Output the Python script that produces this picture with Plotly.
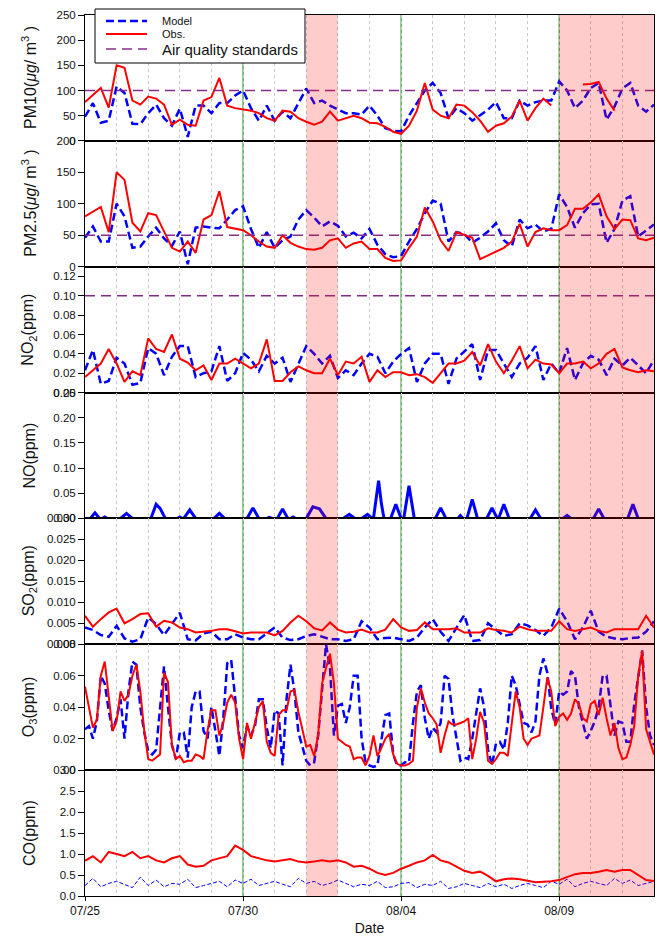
import pandas as pd
import plotly.graph_objects as go
from plotly.subplots import make_subplots

START = "2013-07-25"
t6 = pd.date_range(START, periods=73, freq="6h")
t3 = pd.date_range(START, periods=145, freq="3h")

# ---------------- data ----------------
pm10_obs = [77, 92, 105, 66, 150, 145, 80, 72, 88, 84, 72, 32, 42, 32, 30, 80,
            87, 125, 70, 65, 63, 60, 55, 45, 40, 60, 58, 45, 38, 32, 38, 58,
            40, 45, 50, 45, 36, 35, 28, 18, 14, 30, 60, 115, 62, 50, 45, 72,
            70, 57, 40, 18, 30, 35, 48, 80, 40, 65, 84, 70, None, None, None, 112,
            113, 117, 84, 60, None, None, None, None, None]
pm10_mod = [48, 75, 36, 40, 108, 95, 34, 33, 55, 72, 45, 30, 64, 8, 70, 70,
            55, 75, 75, 90, 100, 65, 40, 70, 40, 58, 45, 75, 104, 75, 80, 70,
            62, 55, 55, 52, 70, 50, 25, 20, 19, 50, 75, 100, 115, 95, 45, 65,
            55, 40, 51, 62, 77, 45, 45, 80, 70, 77, 80, 80, 118, 100, 65, 80,
            105, 115, 42, 68, 104, 115, 70, 58, 72]
pm25_obs = [80, 88, 95, 55, 150, 138, 70, 56, 85, 82, 55, 30, 24, 40, 22, 75,
            82, 120, 63, 60, 58, 50, 40, 32, 30, 50, 38, 32, 28, 27, 30, 42,
            45, 30, 37, 40, 28, 28, 14, 9, 10, 30, 48, 94, 72, 42, 25, 55,
            50, 46, 12, 18, 25, 30, 40, 68, 32, 55, 61, 58, 58, 66, 92, 92,
            102, 115, 80, 60, 75, 74, 45, 42, 46]
pm25_mod = [46, 64, 40, 40, 100, 80, 30, 32, 48, 62, 45, 33, 56, 4, 62, 64,
            62, 61, 75, 90, 96, 60, 30, 55, 30, 42, 48, 75, 90, 78, 64, 72,
            65, 48, 54, 45, 60, 35, 20, 15, 17, 40, 60, 85, 105, 100, 40, 55,
            52, 38, 46, 56, 69, 42, 32, 75, 61, 67, 56, 60, 115, 95, 62, 85,
            99, 100, 38, 60, 105, 112, 48, 58, 67]
no2_obs = [0.016, 0.023, 0.030, 0.045, 0.030, 0.011, 0.022, 0.018,
           0.056, 0.045, 0.042, 0.060, 0.035, 0.031, 0.023, 0.028,
           0.013, 0.030, 0.030, 0.035, 0.030, 0.025, 0.030, 0.055,
           0.012, 0.012, 0.021, 0.027, 0.023, 0.020, 0.020, 0.035,
           0.018, 0.032, 0.030, 0.037, 0.011, 0.023, 0.016, 0.021,
           0.021, 0.018, 0.019, 0.016, 0.010, 0.020, 0.030, 0.030,
           0.033, 0.042, 0.028, 0.050, 0.032, 0.020, 0.033, 0.048,
           0.025, 0.034, 0.030, 0.029, 0.020, 0.030, 0.030, 0.032,
           0.025, 0.030, 0.040, 0.045, 0.026, 0.023, 0.021, 0.023, 0.022]
no2_mod = [0.023, 0.044, 0.009, 0.012, 0.036, 0.030, 0.008, 0.010,
           0.046, 0.040, 0.018, 0.037, 0.048, 0.048, 0.016, 0.020,
           0.022, 0.048, 0.012, 0.020, 0.041, 0.034, 0.022, 0.038,
           0.030, 0.036, 0.011, 0.030, 0.048, 0.040, 0.030, 0.038,
           0.015, 0.023, 0.018, 0.030, 0.040, 0.037, 0.020, 0.032,
           0.040, 0.046, 0.011, 0.030, 0.040, 0.040, 0.009, 0.035,
           0.042, 0.050, 0.013, 0.044, 0.044, 0.030, 0.016, 0.030,
           0.036, 0.048, 0.013, 0.030, 0.020, 0.046, 0.013, 0.030,
           0.038, 0.034, 0.018, 0.035, 0.028, 0.036, 0.028, 0.020, 0.034]
no_hours = [0, 4, 7.6, 11, 13, 15, 17,
            27, 31.5, 36,
            50, 54, 57, 61,
            70, 72, 74,
            75, 79.5, 84,
            98, 102, 106,
            123, 127.5, 132,
            138, 140, 142,
            146, 150, 154,
            156, 158, 160,
            168, 173, 178, 183,
            196, 200.6, 205,
            210, 214.5, 218,
            219, 222.9, 225, 227,
            232, 236, 240,
            242, 246, 250,
            266, 270, 274,
            283, 285, 287,
            290, 294, 298,
            305, 309, 313,
            314, 318, 322,
            338, 342, 346,
            363, 366, 369,
            386, 390, 394,
            412, 416, 420, 432]
no_mod = [0, 0, 0.011, 0, 0, 0.003, 0,
          0, 0.010, 0,
          0, 0.028, 0.020, 0,
          0, 0.003, 0,
          0, 0.017, 0,
          0, 0.010, 0,
          0, 0.021, 0,
          0, 0.002, 0,
          0, 0.019, 0,
          0, 0.003, 0,
          0, 0.023, 0.019, 0,
          0, 0.008, 0,
          0, 0.008, 0,
          0, 0.075, 0.030, 0,
          0, 0.028, 0,
          0, 0.065, 0,
          0, 0.021, 0,
          0, 0.006, 0,
          0, 0.038, 0,
          0, 0.021, 0,
          0, 0.028, 0,
          0, 0.017, 0,
          0, 0.006, 0,
          0, 0.019, 0,
          0, 0.028, 0, 0]
so2_obs = [0.0068, 0.0042, 0.0060, 0.0076, 0.0085, 0.0050, 0.0060, 0.0072,
           0.0074, 0.0042, 0.0056, 0.0052, 0.0040, 0.0036, 0.0028, 0.0030,
           0.0032, 0.0036, 0.0036, 0.0031, 0.0026, 0.0028, 0.0028, 0.0028,
           0.0021, 0.0032, 0.0052, 0.0068, 0.0055, 0.0038, 0.0033, 0.0052,
           0.0035, 0.0028, 0.0030, 0.0035, 0.0028, 0.0028, 0.0035, 0.0060,
           0.0040, 0.0032, 0.0034, 0.0052, 0.0036, 0.0036, 0.0036, 0.0038,
           0.0028, 0.0028, 0.0028, 0.0038, 0.0034, 0.0032, 0.0028, 0.0042,
           0.0036, 0.0032, 0.0032, 0.0032, 0.0055, 0.0036, 0.0032, 0.0036,
           0.0040, 0.0032, 0.0028, 0.0036, 0.0036, 0.0036, 0.0036, 0.0068, 0.0040]
so2_mod = [0.0040, 0.0034, 0.0022, 0.0018, 0.0044, 0.0014, 0.0006, 0.0012,
           0.0064, 0.0048, 0.0022, 0.0050, 0.0075, 0.0012, 0.0009, 0.0026,
           0.0030, 0.0012, 0.0012, 0.0024, 0.0016, 0.0012, 0.0012, 0.0026,
           0.0040, 0.0016, 0.0010, 0.0012, 0.0020, 0.0024, 0.0018, 0.0012,
           0.0012, 0.0008, 0.0012, 0.0055, 0.0040, 0.0012, 0.0015, 0.0016,
           0.0012, 0.0008, 0.0016, 0.0040, 0.0060, 0.0030, 0.0008, 0.0040,
           0.0070, 0.0008, 0.0010, 0.0050, 0.0035, 0.0020, 0.0024, 0.0050,
           0.0045, 0.0034, 0.0020, 0.0040, 0.0085, 0.0055, 0.0012, 0.0040,
           0.0080, 0.0030, 0.0018, 0.0014, 0.0012, 0.0015, 0.0016, 0.0030, 0.0055]
o3_obs = [0.053, 0.041, 0.027, 0.032, 0.060, 0.069, 0.048, 0.025,
          0.031, 0.050, 0.044, 0.048, 0.060, 0.067, 0.050, 0.025,
          0.007, 0.006, 0.008, 0.010, 0.062, 0.056, 0.016, 0.007,
          0.009, 0.005, 0.006, 0.006, 0.010, 0.009, 0.007, 0.025,
          0.038, 0.038, 0.022, 0.030, 0.043, 0.048, 0.043, 0.020,
          0.007, 0.030, 0.020, 0.030, 0.040, 0.044, 0.018, 0.011,
          0.009, 0.035, 0.038, 0.038, 0.050, 0.051, 0.037, 0.026,
          0.015, 0.016, 0.009, 0.022, 0.055, 0.065, 0.074, 0.055,
          0.020, 0.018, 0.016, 0.015, 0.007, 0.008, 0.008, 0.003,
          0.009, 0.022, 0.009, 0.014, 0.020, 0.023, 0.010, 0.004,
          0.003, 0.003, 0.004, 0.006, 0.040, 0.052, 0.043, 0.036,
          0.033, 0.029, 0.011, 0.022, 0.031, 0.029, 0.029, 0.030,
          0.031, 0.033, 0.007, 0.020, 0.037, 0.030, 0.006, 0.004,
          0.007, 0.011, 0.011, 0.009, 0.030, 0.050, 0.040, 0.020,
          0.016, 0.020, 0.021, 0.022, 0.040, 0.059, 0.050, 0.028,
          0.034, 0.036, 0.032, 0.036, 0.045, 0.042, 0.033, 0.031,
          0.042, 0.044, 0.035, 0.046, 0.033, 0.022, 0.030, 0.014,
          0.007, 0.008, 0.016, 0.028, 0.060, 0.076, 0.026, 0.018,
          0.010]
o3_mod = [0.026, 0.028, 0.020, 0.031, 0.060, 0.055, 0.038, 0.025,
          0.033, 0.045, 0.020, 0.050, 0.069, 0.067, 0.040, 0.024,
          0.012, 0.010, 0.013, 0.042, 0.066, 0.040, 0.016, 0.007,
          0.024, 0.024, 0.008, 0.040, 0.050, 0.050, 0.025, 0.020,
          0.040, 0.025, 0.009, 0.033, 0.068, 0.070, 0.045, 0.022,
          0.014, 0.028, 0.022, 0.028, 0.045, 0.045, 0.027, 0.014,
          0.038, 0.036, 0.003, 0.045, 0.067, 0.050, 0.024, 0.015,
          0.006, 0.003, 0.005, 0.022, 0.052, 0.080, 0.065, 0.022,
          0.041, 0.042, 0.030, 0.040, 0.060, 0.060, 0.020, 0.005,
          0.003, 0.002, 0.003, 0.020, 0.035, 0.036, 0.010, 0.003,
          0.003, 0.005, 0.005, 0.030, 0.050, 0.054, 0.033, 0.020,
          0.027, 0.024, 0.030, 0.060, 0.058, 0.035, 0.020, 0.006,
          0.008, 0.007, 0.020, 0.037, 0.052, 0.040, 0.013, 0.003,
          0.017, 0.018, 0.013, 0.030, 0.060, 0.054, 0.042, 0.030,
          0.029, 0.024, 0.031, 0.060, 0.071, 0.062, 0.039, 0.029,
          0.050, 0.048, 0.050, 0.063, 0.060, 0.040, 0.030, 0.020,
          0.025, 0.031, 0.040, 0.060, 0.060, 0.040, 0.022, 0.031,
          0.030, 0.018, 0.018, 0.042, 0.059, 0.076, 0.040, 0.022,
          0.016]
co_obs = [0.84, 0.95, 0.80, 1.05, 1.00, 0.95, 1.05, 0.90, 0.95, 0.85, 0.80, 0.90,
          0.95, 0.75, 0.70, 0.72, 0.85, 0.90, 0.95, 1.20, 1.10, 0.95, 0.90, 0.85,
          0.82, 0.85, 0.88, 0.82, 0.80, 0.82, 0.85, 0.82, 0.85, 0.80, 0.70, 0.72,
          0.65, 0.55, 0.50, 0.55, 0.65, 0.72, 0.80, 0.85, 0.98, 0.85, 0.80, 0.70,
          0.60, 0.55, 0.58, 0.48, 0.35, 0.40, 0.42, 0.40, 0.37, 0.33, 0.34, 0.35,
          0.38, 0.45, 0.52, 0.55, 0.55, 0.58, 0.62, 0.58, 0.62, 0.62, 0.50, 0.38,
          0.36]
co_mod = [0.25, 0.42, 0.22, 0.30, 0.35, 0.28, 0.20, 0.45, 0.25, 0.38, 0.22, 0.30,
          0.28, 0.40, 0.20, 0.25, 0.30, 0.35, 0.22, 0.38, 0.30, 0.40, 0.25, 0.30,
          0.35, 0.28, 0.22, 0.42, 0.30, 0.35, 0.25, 0.30, 0.38, 0.30, 0.22, 0.28,
          0.25, 0.35, 0.20, 0.22, 0.30, 0.32, 0.20, 0.28, 0.25, 0.35, 0.18, 0.22,
          0.30, 0.25, 0.20, 0.30, 0.22, 0.28, 0.18, 0.25, 0.30, 0.25, 0.20, 0.35,
          0.28, 0.40, 0.22, 0.30, 0.35, 0.30, 0.25, 0.42, 0.30, 0.38, 0.25, 0.30,
          0.35]
standards = {1: 100, 2: 50, 3: 0.10}  # PM10, PM2.5, NO2

y_titles = ["PM10(<i>μg</i>/ m<sup>3</sup> )", "PM2.5(<i>μg</i>/ m<sup>3</sup> )",
            "NO<sub>2</sub>(ppm)", "NO(ppm)", "SO<sub>2</sub>(ppm)",
            "O<sub>3</sub>(ppm)", "CO(ppm)"]
y_ranges = [[0, 250], [0, 200], [0, 0.13], [0, 0.25], [0, 0.03], [0, 0.08], [0, 3.0]]
y_ticks = [[0, 50, 100, 150, 200, 250], [0, 50, 100, 150, 200],
           [0, 0.02, 0.04, 0.06, 0.08, 0.10, 0.12], [0, 0.05, 0.10, 0.15, 0.20, 0.25],
           [0, 0.005, 0.010, 0.015, 0.020, 0.025, 0.030], [0, 0.02, 0.04, 0.06, 0.08],
           [0, 0.5, 1.0, 1.5, 2.0, 2.5, 3.0]]
y_fmt = ["{:.0f}", "{:.0f}", "{:.2f}", "{:.2f}", "{:.3f}", "{:.2f}", "{:.1f}"]
x_ticks = ["2013-07-25", "2013-07-30", "2013-08-04", "2013-08-09"]
x_labels = ["07/25", "07/30", "08/04", "08/09"]
green_days = ["2013-07-30", "2013-08-04", "2013-08-09"]
pink_spans = [("2013-08-01", "2013-08-02"), ("2013-08-09", "2013-08-12")]

for name, arr, n in [("pm10_obs", pm10_obs, 73), ("pm10_mod", pm10_mod, 73),
                     ("pm25_obs", pm25_obs, 73), ("pm25_mod", pm25_mod, 73),
                     ("no2_obs", no2_obs, 73), ("no2_mod", no2_mod, 73),
                     ("so2_obs", so2_obs, 73), ("so2_mod", so2_mod, 73),
                     ("o3_obs", o3_obs, 145), ("o3_mod", o3_mod, 145),
                     ("co_obs", co_obs, 73), ("co_mod", co_mod, 73),
                     ("no_mod", no_mod, len(no_hours))]:
    assert len(arr) == n, (name, len(arr))

t_no = pd.Timestamp(START) + pd.to_timedelta(no_hours, unit="h")

# ---------------- figure ----------------
FONT = "Liberation Sans, Arial, sans-serif"
BLUE = "#0000ff"
RED = "#ff0000"
PURPLE = "#8a2b8a"

fig = make_subplots(rows=7, cols=1, shared_xaxes=True, vertical_spacing=0)

def model(x, y, row, width=2.5, dash="8px,4px"):
    fig.add_trace(go.Scatter(x=x, y=y, mode="lines", showlegend=False,
                             line=dict(color=BLUE, width=width, dash=dash)), row=row, col=1)

def obs(x, y, row):
    fig.add_trace(go.Scatter(x=x, y=y, mode="lines", showlegend=False,
                             line=dict(color=RED, width=2)), row=row, col=1)

model(t6, pm10_mod, 1); obs(t6, pm10_obs, 1)
model(t6, pm25_mod, 2); obs(t6, pm25_obs, 2)
model(t6, no2_mod, 3); obs(t6, no2_obs, 3)
model(t_no, no_mod, 4, width=3, dash="solid")
model(t6, so2_mod, 5); obs(t6, so2_obs, 5)
model(t3, o3_mod, 6); obs(t3, o3_obs, 6)
model(t6, co_mod, 7, width=1, dash="4px,2px"); obs(t6, co_obs, 7)

for row, val in standards.items():
    fig.add_trace(go.Scatter(x=[t6[0], t6[-1]], y=[val, val], mode="lines", showlegend=False,
                             line=dict(color=PURPLE, width=1.3, dash="10px,6px")), row=row, col=1)

for i in range(7):
    fig.update_yaxes(row=i + 1, col=1, range=y_ranges[i], tickvals=y_ticks[i],
                     ticktext=[y_fmt[i].format(v) for v in y_ticks[i]],
                     ticks="outside", ticklen=6, tickcolor="black", tickwidth=1,
                     showline=True, linecolor="black", linewidth=1, mirror=True,
                     showgrid=False, zeroline=False, automargin=False,
                     tickfont=dict(family=FONT, size=11.5, color="#111"))

fig.update_xaxes(type="date", range=["2013-07-25", "2013-08-12"],
                 tickvals=x_ticks, ticktext=x_labels, automargin=False,
                 showline=True, linecolor="black", linewidth=1, mirror=True,
                 showgrid=False, zeroline=False,
                 minor=dict(dtick=86400000, tick0="2013-07-25", showgrid=True,
                            gridcolor="#c8c8c8", griddash="dot", gridwidth=1),
                 tickfont=dict(family=FONT, size=12, color="#111"))
fig.update_xaxes(row=7, col=1, ticks="outside", ticklen=4, tickcolor="black",
                 title=dict(text="Date", font=dict(family=FONT, size=14, color="#111"), standoff=10))

shapes = []
for d in green_days:
    shapes.append(dict(type="line", xref="x", yref="paper", x0=d, x1=d, y0=0, y1=1,
                       line=dict(color="#008000", width=1), layer="below"))
for a, b in pink_spans:
    shapes.append(dict(type="rect", xref="x", yref="paper", x0=a, x1=b, y0=0, y1=1,
                       fillcolor="rgba(255,0,0,0.2)", line=dict(width=0), layer="above"))

# manual legend box (page pixel positions converted to paper coords)
PLOT_L, PLOT_W, PLOT_B, PLOT_H = 85, 569, 896, 881
px = lambda x: (x - PLOT_L) / PLOT_W
py = lambda y: (PLOT_B - y) / PLOT_H
shapes.append(dict(type="rect", xref="paper", yref="paper", x0=px(95), x1=px(305),
                   y0=py(63), y1=py(9), fillcolor="white", line=dict(color="black", width=1),
                   layer="above"))
legend_items = [("Model", BLUE, 2.5, "8px,4px", 21, 11),
                ("Obs.", RED, 2, "solid", 34, 11),
                ("Air quality standards", PURPLE, 1.3, "10px,6px", 49, 15)]
annotations = []
for text, col, w, dash, yy, fs in legend_items:
    shapes.append(dict(type="line", xref="paper", yref="paper", x0=px(106), x1=px(147),
                       y0=py(yy), y1=py(yy), line=dict(color=col, width=w, dash=dash), layer="above"))
    annotations.append(dict(text=text, xref="paper", yref="paper", x=px(160), y=py(yy),
                            xanchor="left", yanchor="middle", showarrow=False,
                            font=dict(family=FONT, size=fs, color="#111")))

for i, t in enumerate(y_titles):
    yc = 1 - (i + 0.5) / 7
    annotations.append(dict(text=t, xref="paper", yref="paper", x=px(29), y=yc,
                            xanchor="center", yanchor="middle", textangle=-90, showarrow=False,
                            font=dict(family=FONT, size=16, color="#111")))

# the page body adds an 8px offset, so the figure is sized to fit the 669x944 window
fig.update_layout(width=653, height=928, margin=dict(l=77, r=7, t=7, b=40),
                  plot_bgcolor="white", paper_bgcolor="white",
                  shapes=shapes, annotations=annotations, showlegend=False,
                  font=dict(family=FONT))

fig.write_html("out.html")
